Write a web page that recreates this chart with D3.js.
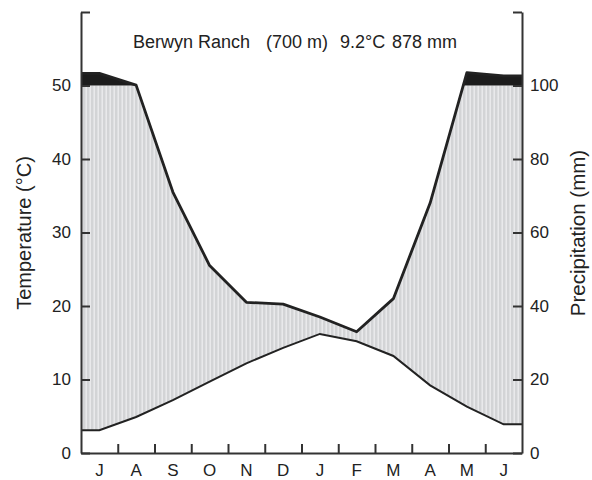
<!DOCTYPE html>
<html>
<head>
<meta charset="utf-8">
<script src="https://cdn.jsdelivr.net/npm/d3@7"></script>
<style>
  body { margin: 0; background: #fff; }
  text { font-family: "Liberation Sans", Arial, sans-serif; fill: #222; }
</style>
</head>
<body>
<svg width="592" height="480"></svg>
<script>
const svg = d3.select("svg");

// months start in July (southern hemisphere)
const months = ["J", "A", "S", "O", "N", "D", "J", "F", "M", "A", "M", "J"];
const tempC = [3.1, 4.9, 7.2, 9.7, 12.2, 14.3, 16.2, 15.2, 13.2, 9.2, 6.3, 3.9];
const precipMm = [133, 101, 71, 51, 41, 40.5, 37, 33, 42, 68, 135, 126];
const tempTicks = [0, 10, 20, 30, 40, 50, 60];
const precipTicks = [0, 20, 40, 60, 80, 100, 120];
const titleParts = ["Berwyn Ranch", "(700 m)", "9.2°C", "878 mm"];
const titleX = [133, 266, 340, 392];

const plotL = 81, plotR = 522, plotT = 12, plotB = 453;

const x = d3.scaleLinear().domain([0, 12]).range([plotL, plotR]);
const yT = d3.scaleLinear().domain([0, 60]).range([plotB, plotT]);
const yP = d3.scaleLinear().domain([0, 120]).range([plotB, plotT]);
// above 100 mm the scale is compressed 1:10
const pY = (p) => (p <= 100 ? yP(p) : yT(50 + (p - 100) / 20));
const y100 = yP(100);

// points at month centres, lines run flat to the frame edges
const withEdges = (vals) =>
  [{ m: 0, v: vals[0] }]
    .concat(vals.map((v, i) => ({ m: i + 0.5, v })))
    .concat([{ m: 12, v: vals[vals.length - 1] }]);

const tPts = withEdges(tempC);
const pPts = withEdges(precipMm);
const both = tPts.map((d, i) => ({ m: d.m, t: d.v, p: pPts[i].v }));

// precip line in screen space, with the points where it crosses the 100 mm line
const pScreen = pPts.map((d) => [x(d.m), pY(d.v)]);
const pCut = [];
pScreen.forEach((pt, i) => {
  if (i > 0) {
    const a = pScreen[i - 1];
    if ((a[1] - y100) * (pt[1] - y100) < 0) {
      const f = (y100 - a[1]) / (pt[1] - a[1]);
      pCut.push([a[0] + f * (pt[0] - a[0]), y100]);
    }
  }
  pCut.push(pt);
});

const defs = svg.append("defs");
const pat = defs.append("pattern")
  .attr("id", "stripes")
  .attr("patternUnits", "userSpaceOnUse")
  .attr("width", 4).attr("height", 10);
pat.append("rect").attr("width", 4).attr("height", 10).attr("fill", "#d3d4d6");
pat.append("rect").attr("x", 1.5).attr("width", 1.4).attr("height", 10).attr("fill", "#ececee");

defs.append("clipPath").attr("id", "below100")
  .append("rect").attr("x", plotL).attr("y", y100)
  .attr("width", plotR - plotL).attr("height", plotB - y100);

// humid period, hatched
svg.append("path")
  .datum(both)
  .attr("clip-path", "url(#below100)")
  .attr("fill", "url(#stripes)")
  .attr("d", d3.area()
    .x((d) => x(d.m))
    .y0((d) => yT(d.t))
    .y1((d) => pY(d.p)));

// months above 100 mm, black
svg.append("path")
  .datum(pCut)
  .attr("fill", "#1c1c1c")
  .attr("d", d3.area()
    .x((d) => d[0])
    .y0(y100)
    .y1((d) => Math.min(d[1], y100)));

svg.append("path")
  .datum(pPts)
  .attr("fill", "none")
  .attr("stroke", "#222")
  .attr("stroke-width", 2.8)
  .attr("stroke-linejoin", "round")
  .attr("d", d3.line().x((d) => x(d.m)).y((d) => pY(d.v)));

svg.append("path")
  .datum(tPts)
  .attr("fill", "none")
  .attr("stroke", "#222")
  .attr("stroke-width", 2)
  .attr("d", d3.line().x((d) => x(d.m)).y((d) => yT(d.v)));

// axes
const styleAxis = (g) => {
  g.selectAll("path, line").attr("stroke", "#333").attr("stroke-width", 2);
  g.selectAll("text").attr("font-size", 17).attr("fill", "#222")
    .attr("font-family", '"Liberation Sans", Arial, sans-serif');
};

svg.append("g")
  .attr("transform", `translate(${plotL},0)`)
  .call(d3.axisLeft(yT).tickValues(tempTicks).tickSize(-9).tickSizeOuter(0)
    .tickPadding(10).tickFormat((d) => (d === 60 ? "" : d)))
  .call(styleAxis);

svg.append("g")
  .attr("transform", `translate(${plotR},0)`)
  .call(d3.axisRight(yP).tickValues(precipTicks).tickSize(-9).tickSizeOuter(0)
    .tickPadding(8).tickFormat((d) => (d === 120 ? "" : d)))
  .call(styleAxis);

svg.append("g")
  .attr("transform", `translate(0,${plotB})`)
  .call(d3.axisBottom(x).tickValues(d3.range(1, 12)).tickSize(-9).tickSizeOuter(0)
    .tickFormat(""))
  .call(styleAxis);

svg.append("g")
  .selectAll("text")
  .data(months)
  .join("text")
  .attr("x", (d, i) => x(i + 0.5))
  .attr("y", 476)
  .attr("text-anchor", "middle")
  .attr("font-size", 17)
  .text((d) => d);

svg.append("text")
  .attr("y", 48)
  .attr("font-size", 18)
  .selectAll("tspan")
  .data(titleParts)
  .join("tspan")
  .attr("x", (d, i) => titleX[i])
  .text((d) => d);

svg.append("text")
  .attr("transform", "translate(31,233) rotate(-90)")
  .attr("text-anchor", "middle")
  .attr("font-size", 20)
  .text("Temperature (°C)");

svg.append("text")
  .attr("transform", "translate(585,233) rotate(-90)")
  .attr("text-anchor", "middle")
  .attr("font-size", 20.5)
  .text("Precipitation (mm)");
</script>
</body>
</html>
